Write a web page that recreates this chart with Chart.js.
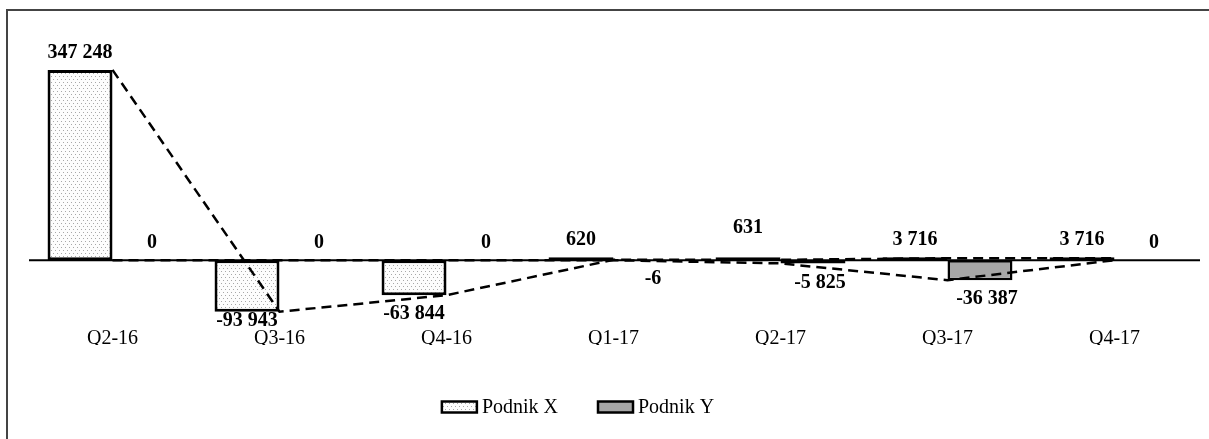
<!DOCTYPE html>
<html>
<head>
<meta charset="utf-8">
<script src="https://cdn.jsdelivr.net/npm/chart.js@4/dist/chart.umd.min.js"></script>
<style>
  html, body { margin: 0; padding: 0; background: #fff; }
  #wrap { width: 1209px; height: 439px; position: relative; }
</style>
</head>
<body>
<div id="wrap"><canvas id="c" width="1209" height="439"></canvas></div>
<script>
// ---- data ----
const categories = ['Q2-16', 'Q3-16', 'Q4-16', 'Q1-17', 'Q2-17', 'Q3-17', 'Q4-17'];
const podnikX = [347248, -93943, -63844, 620, 631, 3716, 3716];
const podnikY = [0, 0, 0, -6, -5825, -36387, 0];
const seriesNames = ['Podnik X', 'Podnik Y'];

// ---- styles ----
const FONT = '"Liberation Serif", "Times New Roman", serif';

function makeDotPattern() {
  const p = document.createElement('canvas');
  p.width = 8; p.height = 6;
  const g = p.getContext('2d');
  g.fillStyle = '#fdfdfd';
  g.fillRect(0, 0, 8, 6);
  g.fillStyle = '#a8a8a8';
  g.fillRect(1, 1, 1, 1);
  g.fillRect(5, 1, 1, 1);
  g.fillRect(3, 4, 1, 1);
  g.fillRect(7, 4, 1, 1);
  return document.getElementById('c').getContext('2d').createPattern(p, 'repeat');
}
const dotPattern = makeDotPattern();
const grayFill = '#a6a6a6';

function fmt(v) {
  const s = Math.abs(v).toString().replace(/\B(?=(\d{3})+(?!\d))/g, ' ');
  return (v < 0 ? '-' : '') + s;
}

// frame + zero axis line
const framePlugin = {
  id: 'frame',
  beforeDraw(chart) {
    const ctx = chart.ctx;
    ctx.save();
    ctx.strokeStyle = '#444';
    ctx.lineWidth = 2;
    ctx.strokeRect(7, 10, 1230, 460);
    ctx.restore();
  },
  beforeDatasetsDraw(chart) {
    const ctx = chart.ctx;
    const y0 = chart.scales.y.getPixelForValue(0);
    const a = chart.chartArea;
    ctx.save();
    ctx.strokeStyle = '#000';
    ctx.lineWidth = 2;
    ctx.beginPath();
    ctx.moveTo(a.left, y0);
    ctx.lineTo(a.right + 2, y0);
    ctx.stroke();
    ctx.restore();
  }
};

// value labels
const labelPlugin = {
  id: 'vlabels',
  afterDatasetsDraw(chart, args, opts) {
    const ctx = chart.ctx;
    ctx.save();
    ctx.font = 'bold 20px ' + FONT;
    ctx.fillStyle = '#000';
    ctx.textAlign = 'center';
    ctx.textBaseline = 'middle';
    [0, 1].forEach(di => {
      const meta = chart.getDatasetMeta(di);
      const data = chart.data.datasets[di].data;
      meta.data.forEach((bar, i) => {
        const v = data[i];
        const top = Math.min(bar.y, bar.base);
        const bottom = Math.max(bar.y, bar.base);
        let y = v >= 0 ? top - 17 : bottom + 19;
        let x = bar.x + (di === 1 ? 7 : 0);
        const nudge = (opts.nudges || {})[di + ':' + i];
        if (nudge) { x += nudge[0]; y += nudge[1]; }
        ctx.fillText(fmt(v), x, y);
      });
    });
    ctx.restore();
  }
};

// legend drawn on canvas
const legendPlugin = {
  id: 'customLegend',
  afterDraw(chart) {
    const ctx = chart.ctx;
    ctx.save();
    ctx.font = '20px ' + FONT;
    ctx.textBaseline = 'middle';
    ctx.fillStyle = '#000';
    const fills = [dotPattern, grayFill];
    const boxW = 35, boxH = 11, gapText = 5, gapItem = 40;
    const widths = seriesNames.map(n => boxW + gapText + ctx.measureText(n).width);
    const total = widths[0] + gapItem + widths[1];
    let x = 578 - total / 2;
    const cy = 407;
    seriesNames.forEach((n, i) => {
      ctx.fillStyle = fills[i];
      ctx.fillRect(x, cy - boxH / 2, boxW, boxH);
      ctx.strokeStyle = '#000';
      ctx.lineWidth = 2.5;
      ctx.strokeRect(x, cy - boxH / 2, boxW, boxH);
      ctx.fillStyle = '#000';
      ctx.fillText(n, x + boxW + gapText, cy + 1);
      x += widths[i] + gapItem;
    });
    ctx.restore();
  }
};

new Chart(document.getElementById('c'), {
  type: 'bar',
  data: {
    labels: categories,
    datasets: [
      {
        label: seriesNames[0], data: podnikX, order: 2,
        backgroundColor: dotPattern, borderColor: '#000', borderWidth: 3,
        borderSkipped: false, minBarLength: 3,
        categoryPercentage: 0.778, barPercentage: 1.0
      },
      {
        label: seriesNames[1], data: podnikY, order: 2,
        backgroundColor: grayFill, borderColor: '#000', borderWidth: 2.5,
        borderSkipped: false,
        categoryPercentage: 0.778, barPercentage: 1.0
      },
      {
        type: 'line', label: 'X line', data: podnikX, order: 0,
        borderColor: '#000', borderWidth: 2.5, borderDash: [10, 6],
        pointRadius: 0, tension: 0, fill: false
      },
      {
        type: 'line', label: 'Y line', data: podnikY, order: 0,
        borderColor: '#000', borderWidth: 2.5, borderDash: [10, 6],
        pointRadius: 0, tension: 0, fill: false
      }
    ]
  },
  options: {
    responsive: false,
    animation: false,
    events: [],
    layout: { padding: { left: 29, right: 11, top: 41, bottom: 94 } },
    plugins: {
      legend: { display: false },
      tooltip: { enabled: false },
      vlabels: { nudges: { '0:1': [0, -10], '0:4': [0, -12] } }
    },
    scales: {
      x: {
        offset: true,
        grid: { display: false, drawTicks: false },
        border: { display: false },
        ticks: { color: '#000', font: { family: FONT, size: 20 }, padding: 12, maxRotation: 0, autoSkip: false },
        afterFit(scale) { scale.height = 30; }
      },
      y: {
        display: false,
        min: -100000,
        max: 400000
      }
    }
  },
  plugins: [framePlugin, labelPlugin, legendPlugin]
});
</script>
</body>
</html>
